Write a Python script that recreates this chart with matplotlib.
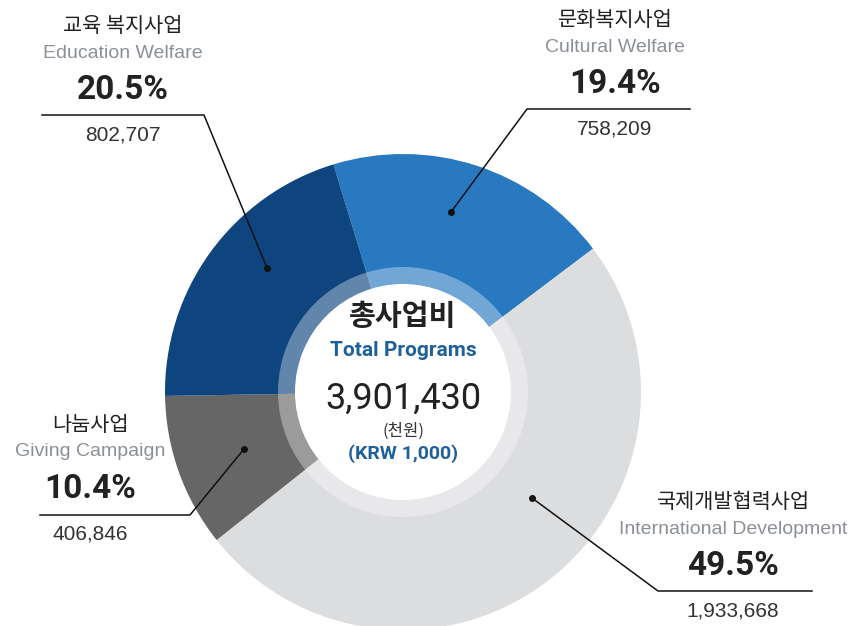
import matplotlib
matplotlib.use("Agg")
import matplotlib.pyplot as plt
from matplotlib.patches import Circle

# Данные
categories_kr = ["문화복지사업", "국제개발협력사업", "나눔사업", "교육 복지사업"]
categories_en = ["Cultural Welfare", "International Development", "Giving Campaign", "Education Welfare"]
shares = [19.4, 49.5, 10.4, 20.5]
amounts = [758209, 1933668, 406846, 802707]
colors = ["#2879c0", "#dcdddf", "#666666", "#0f457f"]
total = 3901430

KR = ["Noto Sans CJK KR", "DejaVu Sans"]
W, H = 866, 626

fig = plt.figure(figsize=(W / 100, H / 100), dpi=100)
ax = fig.add_axes([0, 0, 1, 1])


def Y(py):
    # перевод из пиксельной координаты сверху вниз
    return H - py


cx, cy, R = 403, Y(392), 238
ax.pie(shares, colors=colors, startangle=107, counterclock=False,
       center=(cx, cy), radius=R, frame=True,
       wedgeprops=dict(linewidth=0))
ax.set_xlim(0, W)
ax.set_ylim(0, H)
ax.set_aspect("equal")
ax.axis("off")

ax.add_patch(Circle((cx, cy), 125, color="white", alpha=0.35, lw=0, zorder=3))
ax.add_patch(Circle((cx, cy), 108, color="white", lw=0, zorder=4))

# Центр
ax.text(cx, Y(316), "총사업비", ha="center", va="center", fontsize=21,
        fontweight="bold", family=KR, color="#222222", zorder=5)
ax.text(cx, Y(350), "Total Programs", ha="center", va="center", fontsize=15,
        fontweight="bold", family="Roboto", color="#1f5f9a", zorder=5)
ax.text(cx, Y(399), f"{total:,}", ha="center", va="center", fontsize=26,
        family="Roboto", color="#222222", zorder=5)
ax.text(cx, Y(431), "(천원)", ha="center", va="center", fontsize=12,
        family=KR, color="#333333", zorder=5)
ax.text(cx, Y(454), "(KRW 1,000)", ha="center", va="center", fontsize=14,
        fontweight="bold", family="Roboto", color="#1f5f9a", zorder=5)

# Подписи: (центр текста x, y верхней строки, точка, излом, конец линии)
labels_pos = [
    (615, 20, (451, 212), (527, 109), (690, 109)),
    (733, 502, (532, 498), (658, 591), (812, 591)),
    (90, 425, (244, 449), (190, 515), (40, 515)),
    (123, 26, (267, 268), (204, 115), (42, 115)),
]

for i, (tx, ty, dot, knee, end) in enumerate(labels_pos):
    ax.plot([dot[0], knee[0], end[0]], [Y(dot[1]), Y(knee[1]), Y(end[1])],
            color="#111111", lw=1.1, zorder=6)
    ax.plot(dot[0], Y(dot[1]), "o", color="#111111", ms=4, zorder=6)
    ax.text(tx, Y(ty), categories_kr[i], ha="center", va="center", fontsize=15,
            family=KR, color="#222222")
    ax.text(tx, Y(ty + 27), categories_en[i], ha="center", va="center", fontsize=14,
            family="Liberation Sans", color="#8a9096")
    ax.text(tx, Y(ty + 64), f"{shares[i]}%", ha="center", va="center", fontsize=24,
            fontweight="bold", family="Roboto", color="#222222")
    ax.text(tx, Y(ty + 109), f"{amounts[i]:,}", ha="center", va="center", fontsize=15,
            family="Liberation Sans", color="#333333")

plt.savefig("out.png", dpi=100)
